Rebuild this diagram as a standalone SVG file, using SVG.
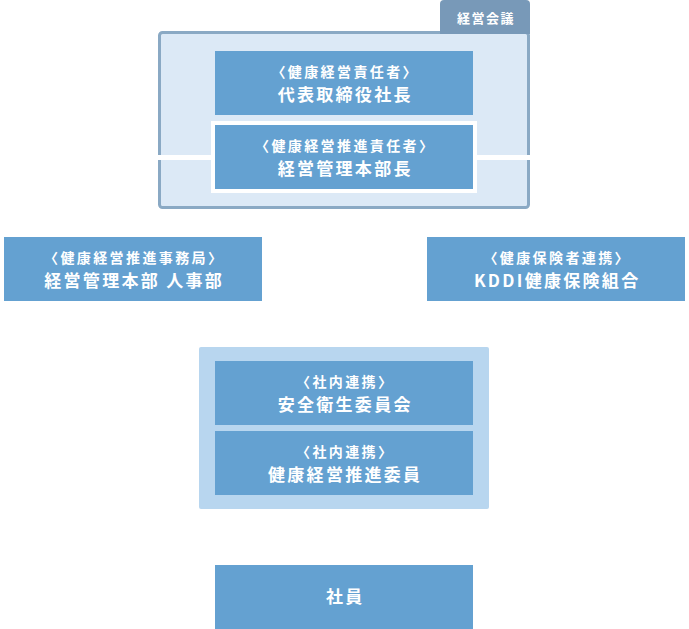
<svg xmlns="http://www.w3.org/2000/svg" width="689" height="629" viewBox="0 0 689 629">
<style>
.box{fill:#64a1d1}
.lbl{font-family:"Noto Sans CJK JP","Noto Sans",sans-serif;font-weight:700;fill:#fff;text-anchor:middle;font-size:14px;letter-spacing:2.4px}
.main{font-family:"Noto Sans CJK JP","Noto Sans",sans-serif;font-weight:700;fill:#fff;text-anchor:middle;font-size:17px;letter-spacing:2.3px}
.tab{font-family:"Noto Sans CJK JP","Noto Sans",sans-serif;font-weight:700;fill:#fff;text-anchor:middle;font-size:13px;letter-spacing:1.5px}
</style>
<g id="keiei-kaigi">
<rect x="159.5" y="32.5" width="369" height="175" rx="3" fill="#dce9f6" stroke="#8aa9c4" stroke-width="3"/>
<path d="M440 34 V4 Q440 0 444 0 H526 Q530 0 530 4 V34 Z" fill="#7899b8"/>
<text class="tab" x="486" y="22.5">経営会議</text>
</g>
<g id="connectors">
<rect x="157" y="155" width="56" height="5" fill="#fff"/>
<rect x="475" y="155" width="56" height="5" fill="#fff"/>
</g>
<g id="ceo">
<rect class="box" x="215" y="51" width="258" height="64"/>
<text class="lbl" x="345.2" y="77">〈健康経営責任者〉</text>
<text class="main" x="345.2" y="101">代表取締役社長</text>
</g>
<g id="promo-chief">
<rect x="211" y="121" width="266" height="72" fill="#fff"/>
<rect class="box" x="215" y="125" width="258" height="64"/>
<text class="lbl" x="345.2" y="151">〈健康経営推進責任者〉</text>
<text class="main" x="345.2" y="175">経営管理本部長</text>
</g>
<g id="office">
<rect class="box" x="4" y="237" width="258" height="64"/>
<text class="lbl" x="134.2" y="263">〈健康経営推進事務局〉</text>
<text class="main" x="134.2" y="287">経営管理本部 人事部</text>
</g>
<g id="kenpo">
<rect class="box" x="427" y="237" width="258" height="64"/>
<text class="lbl" x="557.2" y="263">〈健康保険者連携〉</text>
<text class="main" x="557.2" y="287">KDDI健康保険組合</text>
</g>
<g id="internal">
<rect x="199" y="347" width="290" height="162" rx="2" fill="#b8d6ef"/>
</g>
<g id="safety">
<rect class="box" x="215" y="361" width="258" height="64"/>
<text class="lbl" x="345.2" y="387">〈社内連携〉</text>
<text class="main" x="345.2" y="411">安全衛生委員会</text>
</g>
<g id="promo-members">
<rect class="box" x="215" y="431" width="258" height="64"/>
<text class="lbl" x="345.2" y="457">〈社内連携〉</text>
<text class="main" x="345.2" y="481">健康経営推進委員</text>
</g>
<g id="employees">
<rect class="box" x="215" y="565" width="258" height="64"/>
<text class="main" x="345.2" y="603">社員</text>
</g>
</svg>
